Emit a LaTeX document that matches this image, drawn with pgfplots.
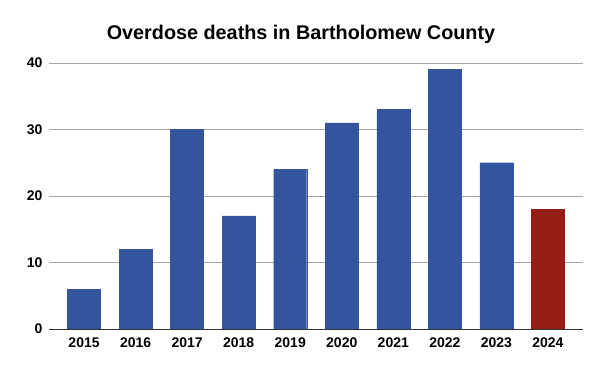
\documentclass[border=0pt]{standalone}
\usepackage{pgfplots}
\pgfplotsset{compat=1.18}
\usepackage{fontspec}
\setmainfont{Liberation Sans}
\definecolor{barblue}{RGB}{52,84,158}
\definecolor{barred}{RGB}{148,30,22}
\begin{document}
\begin{tikzpicture}[x=1pt,y=1pt]
\useasboundingbox (0,0) rectangle (600,371);
\node[font=\fontsize{19.8}{22}\selectfont\bfseries] at (301,337) {Overdose deaths in Bartholomew County};
\begin{axis}[
  at={(49pt,42pt)}, anchor=south west,
  scale only axis, width=534pt, height=266pt,
  xmin=-0.68, xmax=9.68, ymin=0, ymax=40,
  ytick={0,10,20,30,40},
  xtick={0,...,9},
  xticklabels={2015,2016,2017,2018,2019,2020,2021,2022,2023,2024},
  ymajorgrids, grid style={color=black!35, line width=0.6pt},
  axis line style={draw=none},
  axis x line*=bottom, axis y line*=left,
  major tick length=0pt,
  tick label style={font=\fontsize{14}{16}\selectfont\bfseries},
  /pgf/number format/assume math mode=true,
  yticklabel style={xshift=-3pt},
  xticklabel style={yshift=-5pt},
  clip=false,
]
\addplot[ybar, bar width=0.64, fill=barblue, draw=barblue] coordinates {
(0,6) (1,12) (2,30) (3,17) (4,24) (5,31) (6,33) (7,39) (8,25)};
\addplot[ybar, bar width=0.64, fill=barred, draw=barred] coordinates {(9,18)};
\draw[black!80, line width=0.8pt] (axis cs:-0.68,0) -- (axis cs:9.68,0);
\end{axis}
\end{tikzpicture}
\end{document}
